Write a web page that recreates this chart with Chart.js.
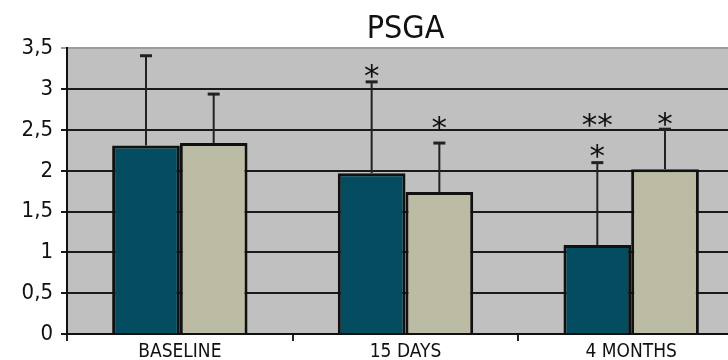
<!DOCTYPE html>
<html>
<head>
<meta charset="utf-8">
<script src="https://cdn.jsdelivr.net/npm/chart.js@4/dist/chart.umd.min.js"></script>
<style>
  html, body { margin: 0; padding: 0; background: #fff; overflow: hidden; }
  #wrap { width: 746px; height: 360px; }
</style>
</head>
<body>
<div id="wrap"><canvas id="psga"></canvas></div>
<script>
// chart data
const categories = ['BASELINE', '15 DAYS', '4 MONTHS'];
const tealValues = [2.31, 1.97, 1.09];
const tealSD = [1.10, 1.12, 1.01];
const beigeValues = [2.34, 1.74, 2.02];
const beigeSD = [0.60, 0.60, 0.49];
const yTickLabels = ['0', '0,5', '1', '1,5', '2', '2,5', '3', '3,5'];

// significance marks and the level (in y units) where they sit
const tealStars = ['', '*', '*'];
const tealStarLevel = [null, 3.22, 2.24];
const beigeStars = ['', '*', '*'];
const beigeStarLevel = [null, 2.59, 2.63];
const tealTopStars = ['', '', '**'];
const tealTopStarLevel = [null, null, 2.62];

const narrow = '"Liberation Sans Narrow", "DejaVu Sans Condensed", sans-serif';

const plotBackground = {
    id: 'plotBackground',
    beforeDraw(chart) {
        const { ctx, chartArea: a } = chart;
        ctx.save();
        ctx.fillStyle = '#c0c0c0';
        ctx.fillRect(a.left, a.top, a.right - a.left, a.bottom - a.top);
        ctx.restore();
    }
};

const errorBars = {
    id: 'errorBars',
    afterDatasetsDraw(chart) {
        const { ctx } = chart;
        const y = chart.scales.y;
        const sets = [[tealValues, tealSD], [beigeValues, beigeSD]];
        ctx.save();
        ctx.strokeStyle = '#222';
        sets.forEach(([vals, sd], i) => {
            chart.getDatasetMeta(i).data.forEach((bar, j) => {
                const top = y.getPixelForValue(vals[j] + sd[j]);
                ctx.lineWidth = 2;
                ctx.beginPath();
                ctx.moveTo(bar.x, bar.y);
                ctx.lineTo(bar.x, top);
                ctx.stroke();
                ctx.lineWidth = 3;
                ctx.beginPath();
                ctx.moveTo(bar.x - 6, top);
                ctx.lineTo(bar.x + 6, top);
                ctx.stroke();
            });
        });
        ctx.restore();
    }
};

const stars = {
    id: 'stars',
    afterDatasetsDraw(chart) {
        const { ctx } = chart;
        const y = chart.scales.y;
        const marks = [
            [0, tealStars, tealStarLevel],
            [1, beigeStars, beigeStarLevel],
            [0, tealTopStars, tealTopStarLevel]
        ];
        ctx.save();
        ctx.fillStyle = '#111';
        ctx.font = '31px "DejaVu Sans", sans-serif';
        ctx.textAlign = 'center';
        ctx.textBaseline = 'alphabetic';
        marks.forEach(([ds, texts, levels]) => {
            chart.getDatasetMeta(ds).data.forEach((bar, j) => {
                if (!texts[j]) return;
                const m = ctx.measureText(texts[j]);
                const mid = (m.actualBoundingBoxAscent - m.actualBoundingBoxDescent) / 2;
                ctx.fillText(texts[j], bar.x, y.getPixelForValue(levels[j]) + mid);
            });
        });
        ctx.restore();
    }
};

new Chart(document.getElementById('psga'), {
    type: 'bar',
    data: {
        labels: categories,
        datasets: [{
            data: tealValues,
            backgroundColor: '#044d61',
            borderColor: '#111',
            borderWidth: 3
        }, {
            data: beigeValues,
            backgroundColor: '#bcbca4',
            borderColor: '#111',
            borderWidth: 3
        }]
    },
    options: {
        responsive: true,
        maintainAspectRatio: false,
        animation: false,
        categoryPercentage: 0.6,
        barPercentage: 1,
        layout: { padding: { left: 0, right: 2, top: 0, bottom: 0 } },
        plugins: {
            legend: { display: false },
            tooltip: { enabled: false },
            title: {
                display: true,
                text: 'PSGA',
                fullSize: false,
                color: '#111',
                font: { family: narrow, size: 32, weight: 'normal' },
                padding: { top: 10, bottom: 0 }
            }
        },
        scales: {
            x: {
                afterFit: s => { s.height = 26; },
                grid: {
                    drawOnChartArea: false,
                    drawTicks: true,
                    tickLength: 7,
                    color: '#222',
                    lineWidth: 2
                },
                border: { color: '#111', width: 2 },
                ticks: {
                    color: '#111',
                    padding: 0,
                    font: { family: narrow, size: 19 }
                }
            },
            y: {
                min: 0,
                max: 3.5,
                afterFit: s => { s.width = 67; },
                grid: {
                    color: ctx => ctx.tick && ctx.tick.value === 3.5 ? '#9c9c9c' : '#1a1a1a',
                    lineWidth: 2,
                    tickLength: 6
                },
                border: { color: '#111', width: 2 },
                ticks: {
                    stepSize: 0.5,
                    color: '#111',
                    padding: 8,
                    font: { family: narrow, size: 22 },
                    callback: (v, i) => yTickLabels[i]
                }
            }
        }
    },
    plugins: [plotBackground, errorBars, stars]
});
</script>
</body>
</html>
